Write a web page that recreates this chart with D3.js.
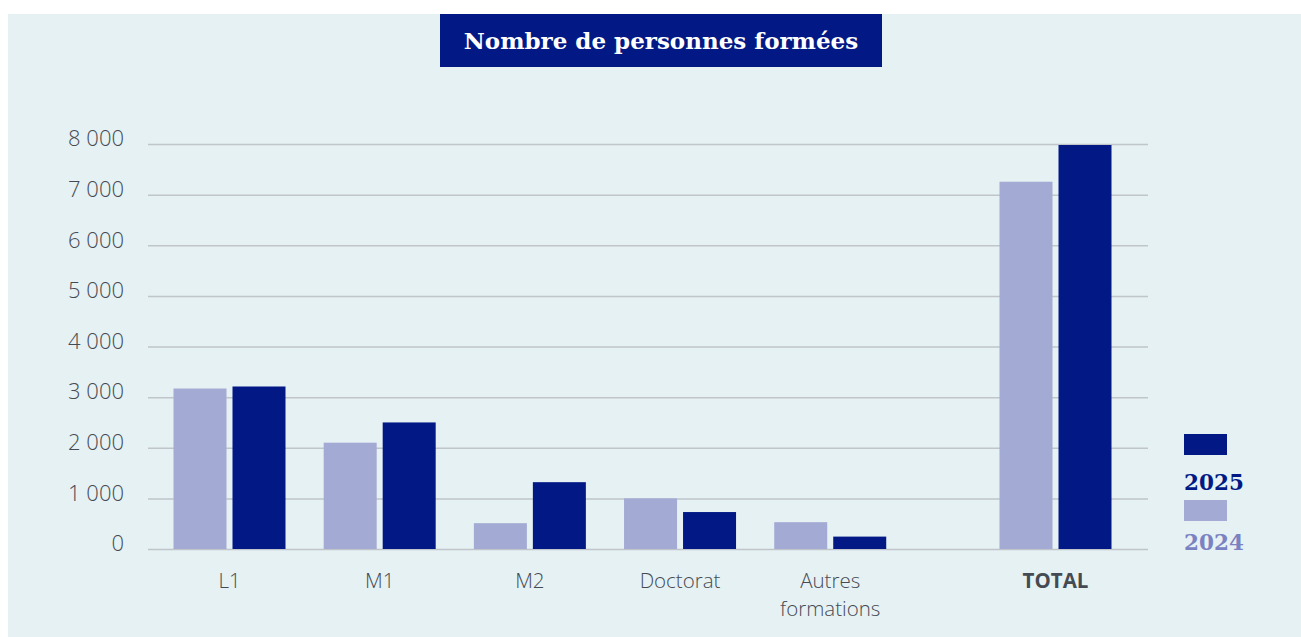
<!DOCTYPE html>
<html><head><meta charset="utf-8">
<script src="https://cdn.jsdelivr.net/npm/d3@7"></script>
<style>html,body{margin:0;padding:0;background:#fff;}</style>
</head><body>
<script>
const categories = ["L1", "M1", "M2", "Doctorat", "Autres formations", "TOTAL"];
const categoryLines = [["L1"], ["M1"], ["M2"], ["Doctorat"], ["Autres", "formations"], ["TOTAL"]];
const values2024 = [3170, 2100, 510, 1000, 530, 7255];
const values2025 = [3210, 2500, 1320, 730, 245, 7980];
const seriesNames = ["2025", "2024"];
const yTicks = [0, 1000, 2000, 3000, 4000, 5000, 6000, 7000, 8000];
const yTickLabels = ["0", "1 000", "2 000", "3 000", "4 000", "5 000", "6 000", "7 000", "8 000"];
const title = "Nombre de personnes formées";

const W = 1301, H = 637;
const c2025 = "#021985", c2024 = "#a3aad4", legend2024Text = "#7b82c2";
const svg = d3.select("body").append("svg").attr("width", W).attr("height", H);
svg.append("rect").attr("x", 8).attr("y", 14).attr("width", W - 8).attr("height", H - 14).attr("fill", "#e6f1f3");

// title
svg.append("rect").attr("x", 440).attr("y", 14).attr("width", 442).attr("height", 53).attr("fill", c2025);
svg.append("text").attr("x", 661).attr("y", 48.5).attr("text-anchor", "middle")
  .attr("fill", "#fff").attr("font-family", "DejaVu Serif").attr("font-weight", "bold")
  .attr("font-size", 23).text(title);

const y = d3.scaleLinear().domain([0, 8000]).range([549, 144]);
// slot positions: TOTAL separated by an extra half slot
const slotIndex = categories.map((c, i) => i === categories.length - 1 ? i + 0.5 : i);
const xc = d3.scaleLinear().domain([0, 5.5]).range([229.5, 1055.5]);
const barW = 53, gap = 6;

const fontUI = "'Open Sans', 'DejaVu Sans', sans-serif";
const textGrey = "#454b53";
// gridlines
const yAxis = d3.axisLeft(y).tickValues(yTicks).tickSize(-1000).tickFormat((d, i) => yTickLabels[i]);
const gAx = svg.append("g").attr("transform", "translate(148,0)").call(yAxis);
gAx.select(".domain").remove();
gAx.selectAll(".tick line").attr("stroke", "#bfc5cb").attr("stroke-width", 1.5);
gAx.selectAll(".tick text").attr("x", -24).attr("dy", "0.08em").attr("fill", textGrey)
  .attr("font-family", fontUI).attr("font-weight", 300).attr("font-size", 22);

// bars
const g = svg.append("g");
categories.forEach((c, i) => {
  const cx = xc(slotIndex[i]);
  g.append("rect").attr("x", cx - gap / 2 - barW).attr("y", y(values2024[i]))
    .attr("width", barW).attr("height", y(0) - y(values2024[i])).attr("fill", c2024);
  g.append("rect").attr("x", cx + gap / 2).attr("y", y(values2025[i]))
    .attr("width", barW).attr("height", y(0) - y(values2025[i])).attr("fill", c2025);
  categoryLines[i].forEach((ln, k) => {
    svg.append("text").attr("text-anchor", "middle").attr("fill", textGrey)
      .attr("font-family", fontUI).attr("font-size", 20.5)
      .attr("font-weight", c === "TOTAL" ? 700 : 300)
      .attr("x", cx).attr("y", 588 + k * 28).text(ln);
  });
});

// legend
const leg = svg.append("g");
leg.append("rect").attr("x", 1184).attr("y", 434).attr("width", 43).attr("height", 21).attr("fill", c2025);
leg.append("text").attr("x", 1184).attr("y", 490).attr("fill", c2025).attr("font-family", "DejaVu Serif")
  .attr("font-weight", "bold").attr("font-size", 21.5).text(seriesNames[0]);
leg.append("rect").attr("x", 1184).attr("y", 500).attr("width", 43).attr("height", 21).attr("fill", c2024);
leg.append("text").attr("x", 1184).attr("y", 550).attr("fill", legend2024Text).attr("font-family", "DejaVu Serif")
  .attr("font-weight", "bold").attr("font-size", 21.5).text(seriesNames[1]);
</script>
</body></html>
